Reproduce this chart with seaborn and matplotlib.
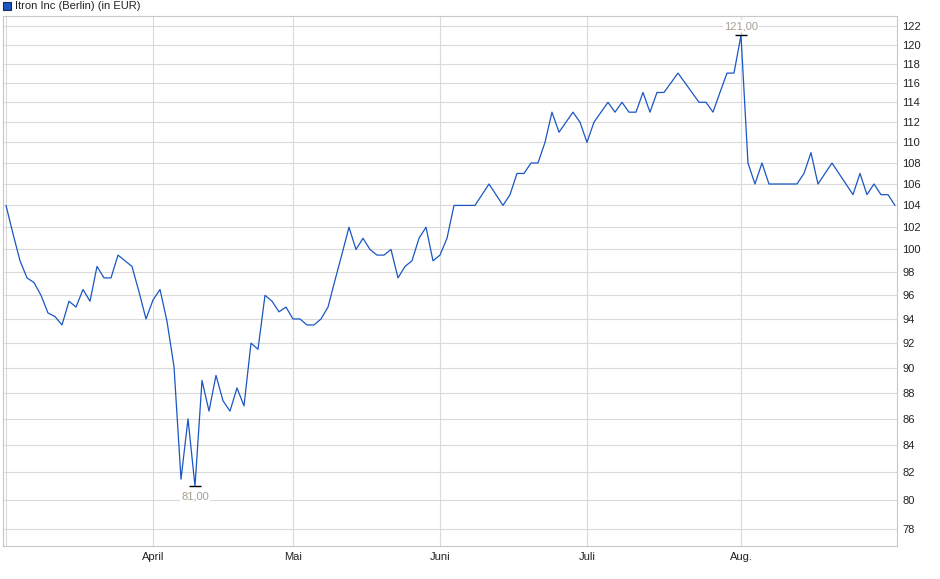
import numpy as np
import matplotlib
matplotlib.use("Agg")
import matplotlib.pyplot as plt
from matplotlib.patches import Rectangle
from matplotlib.ticker import FixedLocator, FixedFormatter, NullLocator
import seaborn as sns

# daily closing prices (trading days)
prices = [
    104, 101.4, 99.0, 97.5, 97.1, 96, 94.5, 94.2, 93.5, 95.5,
    95, 96.5, 95.5, 98.5, 97.5, 97.5, 99.5, 99, 98.5, 96.3,
    94, 95.6, 96.5, 93.8, 90.1, 81.5, 86, 81, 89, 86.6,
    89.4, 87.4, 86.6, 88.4, 87, 92, 91.5, 96, 95.5, 94.6,
    95, 94, 94, 93.5, 93.5, 94, 95, 97.3, 99.6, 102,
    100, 101, 100, 99.5, 99.5, 100, 97.5, 98.5, 99, 101,
    102, 99, 99.5, 101, 104, 104, 104, 104, 105, 106,
    105, 104, 105, 107, 107, 108, 108, 110, 113, 111,
    112, 113, 112, 110, 112, 113, 114, 113, 114, 113,
    113, 115, 113, 115, 115, 116, 117, 116, 115, 114,
    114, 113, 115, 117, 117, 121, 108, 106, 108, 106,
    106, 106, 106, 106, 107, 109, 106, 107, 108, 107,
    106, 105, 107, 105, 106, 105, 105, 104,
]
days = np.arange(len(prices))

# first trading day of each month (index into prices)
month_pos = [0, 21, 41, 62, 83, 105]
month_labels = ["", "April", "Mai", "Juni", "Juli", "Aug."]
y_ticks = list(range(78, 123, 2))

LINE = "#1a56c4"
GRID = "#dadada"

sns.set_theme(style="white")
plt.rcParams["font.family"] = ["Liberation Sans", "DejaVu Sans"]

fig = plt.figure(figsize=(9.4, 5.79), dpi=100)
ax = fig.add_axes([3 / 940, 1 - 546 / 579, 894 / 940, 530 / 579])

sns.lineplot(x=days, y=prices, ax=ax, color=LINE, linewidth=0.9)

ax.set_yscale("log")
ax.set_ylim(76.8, 123.1)
ax.set_xlim(-0.43, len(prices) - 1 + 0.29)

ax.yaxis.set_major_locator(FixedLocator(y_ticks))
ax.yaxis.set_major_formatter(FixedFormatter([str(v) for v in y_ticks]))
ax.yaxis.set_minor_locator(NullLocator())
ax.yaxis.tick_right()
ax.set_xticks(month_pos)
ax.set_xticklabels(month_labels)

ax.grid(True, color=GRID, linewidth=0.8)
ax.set_axisbelow(True)
ax.tick_params(axis="y", which="major", length=0, pad=4, labelsize=8, colors="#222222")
ax.tick_params(axis="x", length=2.5, width=0.8, color="#b0b0b0", pad=1.5, labelsize=8, colors="#222222")
ax.set_xlabel("")
ax.set_ylabel("")
for s in ax.spines.values():
    s.set_color("#c8c8c8")
    s.set_linewidth(0.8)

# high / low markers
for idx, dy, va in [(int(np.argmax(prices)), 6.5, "center"), (int(np.argmin(prices)), -7.5, "center")]:
    v = prices[idx]
    ax.plot([idx], [v], marker="_", ms=8, mew=1.0, color="black")
    ax.annotate(f"{v:.2f}".replace(".", ","), (idx, v), xytext=(0, dy),
                textcoords="offset points", ha="center", va=va, fontsize=8,
                color="#a89e94",
                bbox=dict(boxstyle="square,pad=0.1", fc="white", ec="none"))

# legend box
fig.patches.append(Rectangle((3 / 940, 1 - 10 / 579), 8 / 940, 8 / 579,
                             transform=fig.transFigure, facecolor=LINE,
                             edgecolor="#1c2b55", linewidth=0.8))
fig.text(15 / 940, 1 - 6 / 579, "Itron Inc (Berlin) (in EUR)", fontsize=8,
         va="center", ha="left", color="#222222")

fig.savefig("out.png", dpi=100)
